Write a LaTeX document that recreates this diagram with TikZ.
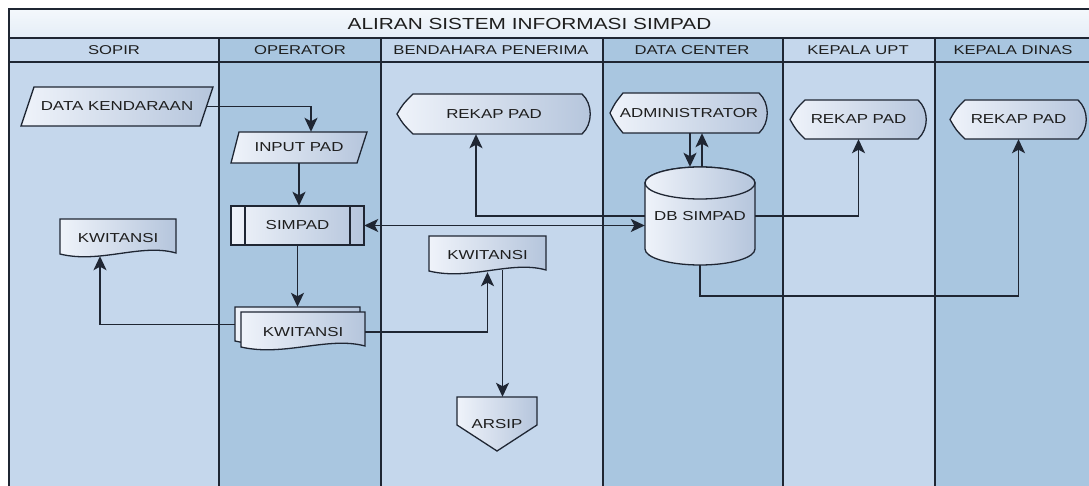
\documentclass[tikz,border=0pt]{standalone}
\usepackage{fontspec}
\setmainfont{Liberation Sans}[FakeStretch=1.3]
\usetikzlibrary{arrows.meta,calc}
\definecolor{laneL}{HTML}{C5D7EC}
\definecolor{laneD}{HTML}{A9C6E0}
\definecolor{titleT}{HTML}{F4F8FC}
\definecolor{titleB}{HTML}{E4EDF7}
\definecolor{ink}{HTML}{1F2633}
\definecolor{txt}{HTML}{1E1E1E}
\definecolor{nL}{HTML}{EFF3FA}
\definecolor{nR}{HTML}{B5C5DC}
\begin{document}
\begin{tikzpicture}[x=1pt,y=-1pt,
  lane/.style={draw=ink,line width=1.5pt},
  shp/.style={draw=ink,line width=1.3pt,left color=nL,right color=nR},
  lbl/.style={font=\fontsize{13}{14}\selectfont,text=txt,inner sep=0pt},
  hdr/.style={font=\fontsize{12.8}{14}\selectfont,text=txt,inner sep=0pt},
  tip/.tip={Stealth[length=14pt,width=13pt,inset=3.5pt]},
  arr/.style={draw=ink,line width=1.7pt,-tip},
  darr/.style={draw=ink,line width=1.7pt,tip-tip},
]
\useasboundingbox (0,0) rectangle (1089,486);
\fill[white] (0,0) rectangle (1089,486);
% lanes
\fill[laneL] (9,38) rectangle (219,492);
\fill[laneD] (219,38) rectangle (381,492);
\fill[laneL] (381,38) rectangle (603,492);
\fill[laneD] (603,38) rectangle (783,492);
\fill[laneL] (783,38) rectangle (935,492);
\fill[laneD] (935,38) rectangle (1094,492);
\shade[top color=titleT,bottom color=titleB] (9,9) rectangle (1094,38);
\draw[lane] (1094,9) -- (9,9) -- (9,492);
\draw[lane] (9,38) -- (1094,38);
\draw[lane] (9,62) -- (1094,62);
\foreach \x in {219,381,603,783,935} \draw[lane] (\x,38) -- (\x,492);
% title and headers
\node[font=\fontsize{16}{18}\selectfont,text=txt,inner sep=0pt] (title) at (529.5,23.5) {ALIRAN SISTEM INFORMASI SIMPAD};
\node[hdr] (h1) at (114,50.5) {SOPIR};
\node[hdr] (h2) at (300,50.5) {OPERATOR};
\node[hdr] (h3) at (491,50.5) {BENDAHARA PENERIMA};
\node[hdr] (h4) at (692,50.5) {DATA CENTER};
\node[hdr] (h5) at (858,50.5) {KEPALA UPT};
\node[hdr] (h6) at (1013,50.5) {KEPALA DINAS};
% DATA KENDARAAN
\path[shp] (34,87) -- (213,87) -- (200,126) -- (21,126) -- cycle;
\node[lbl,minimum width=192pt,minimum height=39pt] (kd) at (117,106.5) {DATA KENDARAAN};
% INPUT PAD
\path[shp] (239,132) -- (367,132) -- (357,163) -- (231,163) -- cycle;
\node[lbl,minimum width=136pt,minimum height=31pt] (ip) at (299,147.5) {INPUT PAD};
% SIMPAD
\path[shp] (231,206) rectangle (364,245);
\draw[ink,line width=1.3pt] (245,206) -- (245,245) (350,206) -- (350,245);
\node[lbl,minimum width=133pt,minimum height=39pt] (sp) at (297.5,225.5) {SIMPAD};
% KWITANSI multi-doc (operator)
\path[shp] (235,307) -- (360,307) -- (360,340) .. controls (322,330) and (279,351) .. (235,341) -- cycle;
\node[inner sep=0pt,minimum width=125pt,minimum height=35pt] (kw1b) at (297.5,324.5) {};
\path[shp] (241,312) -- (365,312) -- (365,346) .. controls (328,336) and (284,357) .. (241,347) -- cycle;
\node[lbl,minimum width=124pt,minimum height=40pt] (kw1) at (303,332) {KWITANSI};
% KWITANSI (sopir)
\path[shp] (60,219) -- (176,219) -- (176,253) .. controls (141,243) and (100,264) .. (60,254) -- cycle;
\node[lbl,minimum width=116pt,minimum height=37pt] (kw0) at (118,237.5) {};
\node[lbl] (kw0t) at (118,238.5) {KWITANSI};
% KWITANSI (bendahara)
\path[shp] (429,236) -- (546,236) -- (546,270) .. controls (511,260) and (470,281) .. (429,271) -- cycle;
\node[lbl,minimum width=117pt,minimum height=36pt] (kw2) at (487.5,254) {};
\node[lbl] (kw2t) at (487.5,255.5) {KWITANSI};
% ARSIP
\path[shp] (457,397) -- (537,397) -- (537,425) -- (497,451) -- (457,425) -- cycle;
\node[lbl,minimum width=80pt,minimum height=54pt] (ar) at (497,424) {ARSIP};
% REKAP PAD (bendahara)
\path[shp] (397,114) .. controls (403,104) .. (413,94) -- (582,94) .. controls (593,104) and (593,124) .. (582,134) -- (413,134) .. controls (403,124) .. (397,114) -- cycle;
\node[lbl,minimum width=194pt,minimum height=40pt] (rk1) at (494,114) {REKAP PAD};
% ADMINISTRATOR
\path[shp] (610,113) .. controls (615,103) .. (623,93) -- (759,93) .. controls (770,103) and (770,123) .. (759,133) -- (623,133) .. controls (615,123) .. (610,113) -- cycle;
\node[lbl,minimum width=158pt,minimum height=40pt] (adm) at (689,113) {ADMINISTRATOR};
% REKAP PAD (kepala upt)
\path[shp] (790,119.5) .. controls (796,109) .. (805,100) -- (918,100) .. controls (929,110) and (929,129) .. (918,139) -- (805,139) .. controls (796,130) .. (790,119.5) -- cycle;
\node[lbl,minimum width=137pt,minimum height=39pt] (rk2) at (858.5,119.5) {REKAP PAD};
% REKAP PAD (kepala dinas)
\path[shp] (950,119.5) .. controls (956,109) .. (965,100) -- (1078,100) .. controls (1089,110) and (1089,129) .. (1078,139) -- (965,139) .. controls (956,130) .. (950,119.5) -- cycle;
\node[lbl,minimum width=137pt,minimum height=39pt] (rk3) at (1018.5,119.5) {REKAP PAD};
% DB SIMPAD cylinder
\path[shp] (645,183) -- (645,249) .. controls (645,257.8) and (669.6,265) .. (700,265) .. controls (730.4,265) and (755,257.8) .. (755,249) -- (755,183) .. controls (755,174.2) and (730.4,167) .. (700,167) .. controls (669.6,167) and (645,174.2) .. (645,183) -- cycle;
\path[shp] (645,183) .. controls (645,191.8) and (669.6,199) .. (700,199) .. controls (730.4,199) and (755,191.8) .. (755,183) .. controls (755,174.2) and (730.4,167) .. (700,167) .. controls (669.6,167) and (645,174.2) .. (645,183) -- cycle;
\node[lbl,minimum width=110pt,minimum height=98pt] (db) at (700,216) {DB SIMPAD};
% connectors
\draw[arr] ($(kd.east)+(-6.5,0)$) -| ($(ip.north)+(12,0)$);
\draw[arr] (ip.south) -- (ip.south |- sp.north);
\draw[arr] (sp.south) -- (kw1b.north);
\draw[darr] (sp.east) -- (sp.east -| db.west);
\draw[arr] (kw1b.west) -| ($(kw0.south)+(-18,0)$);
\draw[arr] (kw1.east) -| (kw2.south);
\draw[arr] ($(kw2.south)+(15,-2)$) coordinate (k2o) -- (k2o |- ar.north);
\draw[arr] (db.west) -| ($(rk1.south)+(-18,0)$);
\draw[arr] (db.east) -| (rk2.south);
\draw[arr] (db.south) -- ++(0,31) -| (rk3.south);
\draw[arr] ($(adm.south)+(1,0)$) coordinate (a1) -- (a1 |- db.north);
\draw[arr] ($(db.north)+(2,0)$) -- ($(adm.south)+(13,0)$);
\end{tikzpicture}
\end{document}
